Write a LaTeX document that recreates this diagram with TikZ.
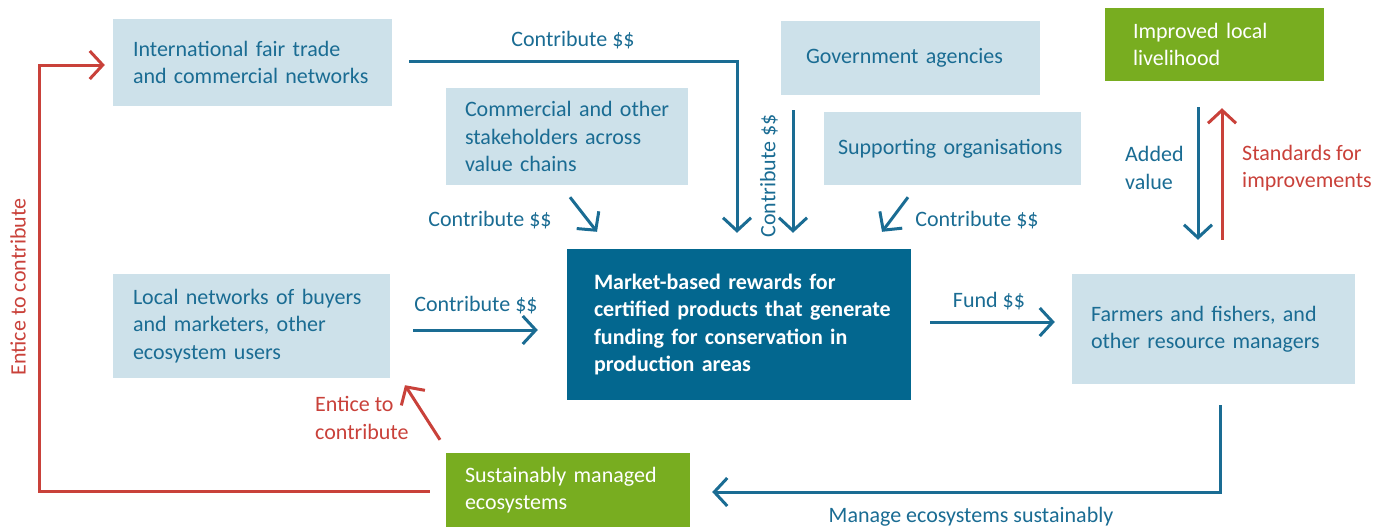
\documentclass[tikz,border=0pt]{standalone}
\usepackage{fontspec}
\setmainfont{Carlito}
\usetikzlibrary{arrows.meta,calc}
\definecolor{lb}{HTML}{CDE1EA}
\definecolor{db}{HTML}{03678F}
\definecolor{tb}{HTML}{1A6C93}
\definecolor{gr}{HTML}{78AD20}
\definecolor{rd}{HTML}{C9413A}
\newcommand{\fsz}{\fontsize{22}{27.5}\selectfont}
\newcommand{\oneline}[1]{\mbox{#1}}
\begin{document}
\begin{tikzpicture}[x=1pt,y=-1pt,
  box/.style={fill=lb, text=tb, inner sep=0pt, align=left, font=\fsz},
  gbox/.style={box, fill=gr, text=white},
  cbox/.style={box, fill=db, text=white, font=\fsz\bfseries},
  lbl/.style={inner sep=0pt, text=tb, font=\fsz},
  rlbl/.style={lbl, text=rd},
  barrow/.style={draw=tb, line width=3pt, -{Straight Barb[length=13pt,width=28pt]}},
  rarrow/.style={barrow, draw=rd}
]
\useasboundingbox (0,0) rectangle (1392,531);

% boxes
\node[box, minimum width=279, minimum height=87, text width=239] (intl) at (252.5,62.5)
  {\oneline{International fair trade}\\\oneline{and commercial networks}};
\node[box, minimum width=242, minimum height=97, text width=204] (comm) at (567,136.5)
  {\oneline{Commercial and other}\\\oneline{stakeholders across}\\\oneline{value chains}};
\node[box, minimum width=259, minimum height=74, text width=209] (gov) at (910.5,58)
  {\oneline{Government agencies}};
\node[box, minimum width=257, minimum height=73, text width=229] (supp) at (952.5,148.5)
  {\oneline{Supporting organisations}};
\node[gbox, minimum width=219, minimum height=73, text width=163] (impr) at (1214.5,44.5)
  {\oneline{Improved local}\\\oneline{livelihood}};
\node[box, minimum width=277, minimum height=104, text width=237] (local) at (251.5,326)
  {\oneline{Local networks of buyers}\\\oneline{and marketers, other}\\\oneline{ecosystem users}};
\node[cbox, minimum width=344, minimum height=151, text width=290] (center) at (739,324.5)
  {\oneline{Market-based rewards for}\\\oneline{certified products that generate}\\\oneline{funding for conservation in}\\\oneline{production areas}};
\node[box, minimum width=283, minimum height=110, text width=245] (farm) at (1213.5,329)
  {\oneline{Farmers and fishers, and}\\\oneline{other resource managers}};
\node[gbox, minimum width=244, minimum height=74, text width=206] (sust) at (568,490)
  {\oneline{Sustainably managed}\\\oneline{ecosystems}};

% connectors
\draw[barrow] ($(intl.east)+(17,-1.5)$) -| ($(center.north)+(-2,-16)$);
\node[lbl] (l1) at (573,40) {Contribute \$\$};

\draw[barrow] ($(gov.south)+(-117.5,15)$) -- ($(center.north)+(54,-16)$);
\node[lbl, rotate=90] (l2) at (769,176) {Contribute \$\$};

\draw[barrow] ($(comm.south)+(3,12)$) -- ($(center.north)+(-142,-17)$);
\node[lbl] (l3) at (490,220) {Contribute \$\$};

\draw[barrow] ($(supp.south)+(-44.5,12)$) -- ($(center.north)+(143,-17)$);
\node[lbl] (l4) at (977,220) {Contribute \$\$};

\draw[barrow] ($(local.east)+(23,4)$) -- ($(center.west)+(-29,5.5)$);
\node[lbl] (l5) at (476,305) {Contribute \$\$};

\draw[barrow] ($(center.east)+(19,-2.5)$) -- ($(farm.west)+(-17,-7)$);
\node[lbl] (l6) at (989,301) {Fund \$\$};

\draw[barrow] ($(impr.south)+(-16.5,26)$) -- ($(farm.north)+(-15.5,-34)$);
\node[lbl, anchor=west, align=left] (l7) at (1125,168) {Added\\value};
\draw[rarrow] ($(farm.north)+(8.5,-34)$) -- ($(impr.south)+(7.5,27)$);
\node[rlbl, anchor=west, align=left] (l8) at (1242,168) {Standards for\\improvements};

\draw[barrow] ($(farm.south)+(6.5,21)$) |- ($(sust.east)+(22,2)$);
\node[lbl] (l9) at (971,517) {Manage ecosystems sustainably};

\draw[rarrow] ($(sust.west)+(-16,1)$) -- ++(-390,0) |- ($(intl.west)+(-8,2.5)$);
\node[rlbl, rotate=90] (l10) at (18,287) {Entice to contribute};

\draw[rarrow] ($(sust.north)+(-128,-13)$) -- ($(local.south)+(153.5,7)$);
\node[rlbl, anchor=west, align=left] (l11) at (315,418) {Entice to\\contribute};
\end{tikzpicture}
\end{document}
